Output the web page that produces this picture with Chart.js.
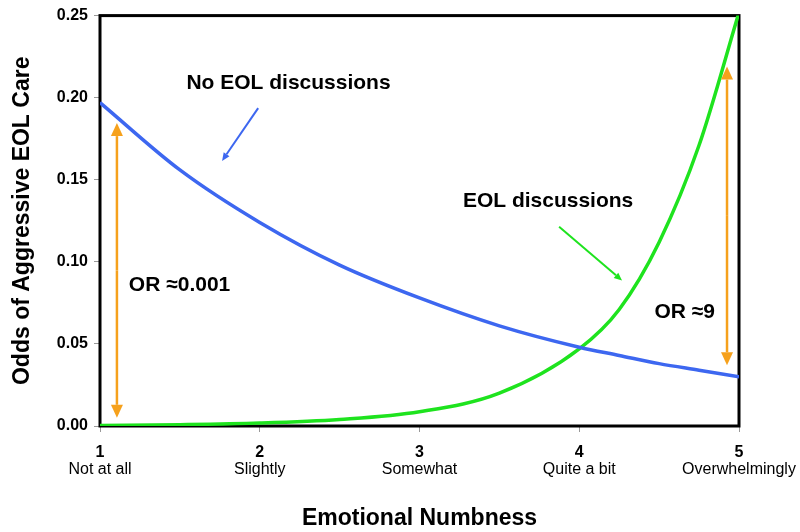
<!DOCTYPE html>
<html>
<head>
<meta charset="utf-8">
<script src="https://cdn.jsdelivr.net/npm/chart.js@4.4.0/dist/chart.umd.min.js"></script>
<style>
  html, body { margin: 0; padding: 0; background: #fff; }
  #wrap { width: 800px; height: 532px; }
</style>
</head>
<body>
<div id="wrap"><canvas id="chart"></canvas></div>
<script>
// ===========================
// DATA
// ===========================

const numbness = [1, 1.5, 2, 2.5, 3, 3.5, 4, 4.25, 4.5, 4.75, 5];
const noDiscussions = [0.197, 0.156, 0.124, 0.098, 0.078, 0.061, 0.048, 0.043, 0.038, 0.034, 0.030];
const withDiscussions = [0.0003, 0.0008, 0.0018, 0.004, 0.0087, 0.020, 0.047, 0.071, 0.112, 0.171, 0.252];

const tickNumbers = [1, 2, 3, 4, 5];
const tickNames = ["Not at all", "Slightly", "Somewhat", "Quite a bit", "Overwhelmingly"];
const yTicks = [0, 0.05, 0.1, 0.15, 0.2, 0.25];

// annotation positions, in data units
const orArrows = [
  { x: 1.106, from: 0.005, to: 0.1845 },
  { x: 4.925, from: 0.037, to: 0.219 },
];
const pointerArrows = [
  { from: [1.99, 0.1936], to: [1.764, 0.1615], color: "#3d67f0" },
  { from: [3.874, 0.1214], to: [4.268, 0.0886], color: "#1ee31e" },
];
const notes = [
  { text: "No EOL discussions", x: 2.18, y: 0.2088 },
  { text: "EOL discussions", x: 3.805, y: 0.137 },
  { text: "OR \u22480.001", x: 1.498, y: 0.0856 },
  { text: "OR \u22489", x: 4.66, y: 0.0692 },
];

const FONT = "'Liberation Sans', Arial, sans-serif";
const BLUE = "#3d67f0";
const GREEN = "#1ee31e";
const ORANGE = "#f6a11c";

function toPoints(xs, ys) {
  return xs.map((x, i) => ({ x: x, y: ys[i] }));
}

// ===========================
// ARROW HELPER
// ===========================

function drawArrow(ctx, x1, y1, x2, y2, color, width, headLen, headHalf) {
  const ang = Math.atan2(y2 - y1, x2 - x1);
  const bx = x2 - Math.cos(ang) * headLen;
  const by = y2 - Math.sin(ang) * headLen;
  ctx.strokeStyle = color;
  ctx.fillStyle = color;
  ctx.lineWidth = width;
  ctx.beginPath();
  ctx.moveTo(x1, y1);
  ctx.lineTo(bx, by);
  ctx.stroke();
  ctx.beginPath();
  ctx.moveTo(x2, y2);
  ctx.lineTo(bx + Math.sin(ang) * headHalf, by - Math.cos(ang) * headHalf);
  ctx.lineTo(bx - Math.sin(ang) * headHalf, by + Math.cos(ang) * headHalf);
  ctx.closePath();
  ctx.fill();
}

// ===========================
// FRAME + ANNOTATIONS
// ===========================

const annotate = {
  id: "annotate",
  beforeDatasetsDraw(chart) {
    const { ctx, chartArea: a } = chart;
    ctx.save();
    ctx.strokeStyle = "#000";
    ctx.lineWidth = 3;
    ctx.strokeRect(a.left, a.top, a.right - a.left, a.bottom - a.top);
    ctx.restore();
  },
  afterDatasetsDraw(chart) {
    const { ctx } = chart;
    const xs = chart.scales.x;
    const ys = chart.scales.y;
    ctx.save();

    orArrows.forEach((a) => {
      const px = xs.getPixelForValue(a.x);
      const pTop = ys.getPixelForValue(a.to);
      const pBot = ys.getPixelForValue(a.from);
      const mid = (pTop + pBot) / 2;
      drawArrow(ctx, px, mid, px, pTop, ORANGE, 2.5, 13, 6);
      drawArrow(ctx, px, mid, px, pBot, ORANGE, 2.5, 13, 6);
    });

    pointerArrows.forEach((a) => {
      drawArrow(
        ctx,
        xs.getPixelForValue(a.from[0]), ys.getPixelForValue(a.from[1]),
        xs.getPixelForValue(a.to[0]), ys.getPixelForValue(a.to[1]),
        a.color, 2, 8, 3.5
      );
    });

    ctx.fillStyle = "#000";
    ctx.font = "bold 21px " + FONT;
    ctx.textAlign = "center";
    ctx.textBaseline = "middle";
    notes.forEach((n) => {
      ctx.fillText(n.text, xs.getPixelForValue(n.x), ys.getPixelForValue(n.y));
    });
    ctx.restore();
  },
};

// ===========================
// CHART
// ===========================

new Chart(document.getElementById("chart"), {
  type: "line",
  data: {
    datasets: [
      {
        label: "No EOL discussions",
        data: toPoints(numbness, noDiscussions),
        borderColor: BLUE,
        borderWidth: 3.5,
        pointRadius: 0,
        cubicInterpolationMode: "monotone",
      },
      {
        label: "EOL discussions",
        data: toPoints(numbness, withDiscussions),
        borderColor: GREEN,
        borderWidth: 3.5,
        pointRadius: 0,
        cubicInterpolationMode: "monotone",
      },
    ],
  },
  options: {
    responsive: true,
    maintainAspectRatio: false,
    animation: false,
    layout: { padding: { left: 0, right: 61, top: 14, bottom: 0 } },
    plugins: { legend: { display: false }, tooltip: { enabled: false } },
    scales: {
      x: {
        type: "linear",
        position: "bottom",
        min: 1,
        max: 5,
        afterBuildTicks: (s) => { s.ticks = tickNumbers.map((v) => ({ value: v })); },
        afterFit: (s) => { s.height = 32; },
        ticks: {
          color: "#000",
          font: { family: FONT, size: 16, weight: "bold" },
          padding: 11,
          maxRotation: 0,
          autoSkip: false,
        },
        grid: { drawOnChartArea: false, tickLength: 6, color: "#999" },
        border: { display: false },
      },
      x2: {
        type: "linear",
        position: "bottom",
        min: 1,
        max: 5,
        afterBuildTicks: (s) => { s.ticks = tickNumbers.map((v) => ({ value: v })); },
        afterFit: (s) => { s.height = 74; },
        ticks: {
          color: "#000",
          font: { family: FONT, size: 16 },
          padding: -6,
          maxRotation: 0,
          autoSkip: false,
          callback: (v) => tickNames[tickNumbers.indexOf(v)],
        },
        grid: { display: false },
        border: { display: false },
        title: {
          display: true,
          text: "Emotional Numbness",
          color: "#000",
          font: { family: FONT, size: 23, weight: "bold" },
          padding: { top: 17, bottom: 0 },
        },
      },
      y: {
        min: 0,
        max: 0.25,
        afterBuildTicks: (s) => { s.ticks = yTicks.map((v) => ({ value: v })); },
        afterFit: (s) => { s.width = 100; },
        ticks: {
          color: "#000",
          font: { family: FONT, size: 16, weight: "bold" },
          padding: 6,
          callback: (v) => v.toFixed(2),
        },
        grid: { drawOnChartArea: false, tickLength: 6, color: "#999" },
        border: { display: false },
        title: {
          display: true,
          text: "Odds of Aggressive EOL Care",
          color: "#000",
          font: { family: FONT, size: 23, weight: "bold" },
          padding: { top: 9, bottom: 0 },
        },
      },
    },
  },
  plugins: [annotate],
});
</script>
</body>
</html>
